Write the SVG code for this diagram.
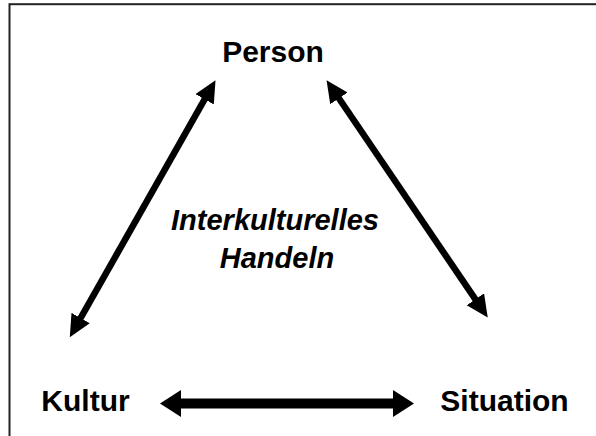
<svg xmlns="http://www.w3.org/2000/svg" width="596" height="436" viewBox="0 0 596 436">
  <style>
    .lbl { font-family: "Liberation Sans", Arial, sans-serif; font-weight: bold; font-size: 30px; fill: #000; text-anchor: middle; }
    .center { font-family: "Liberation Sans", Arial, sans-serif; font-weight: bold; font-style: italic; font-size: 29px; fill: #000; text-anchor: middle; }
    .diag { stroke: #000; stroke-width: 6.5; fill: none; marker-start: url(#headD); marker-end: url(#headD); }
    .horiz { stroke: #000; stroke-width: 10; fill: none; marker-start: url(#headH); marker-end: url(#headH); }
  </style>
  <defs>
    <marker id="headD" markerUnits="userSpaceOnUse" markerWidth="24" markerHeight="22" refX="1" refY="10.5" orient="auto-start-reverse">
      <path d="M0,0 L22,10.5 L0,21 z" fill="#000"/>
    </marker>
    <marker id="headH" markerUnits="userSpaceOnUse" markerWidth="24" markerHeight="28" refX="1" refY="13.5" orient="auto-start-reverse">
      <path d="M0,0 L21,13.5 L0,27 z" fill="#000"/>
    </marker>
  </defs>
  <rect x="0" y="0" width="596" height="436" fill="#fff"/>
  <rect x="9.5" y="4.2" width="600" height="450" fill="none" stroke="#222" stroke-width="2"/>
  <g id="connectors">
    <line class="diag" x1="80.15" y1="318.86" x2="205.15" y2="98.44"/>
    <line class="diag" x1="338.36" y1="97.5" x2="475.94" y2="300.1"/>
    <line class="horiz" x1="180" y1="403.5" x2="394" y2="403.5"/>
  </g>
  <g id="person"><text class="lbl" x="273" y="62">Person</text></g>
  <g id="kultur"><text class="lbl" x="85.5" y="411">Kultur</text></g>
  <g id="situation"><text class="lbl" x="504.5" y="410.5">Situation</text></g>
  <g id="handeln">
    <text class="center" x="275" y="229.5">Interkulturelles</text>
    <text class="center" x="277" y="267.5">Handeln</text>
  </g>
</svg>
